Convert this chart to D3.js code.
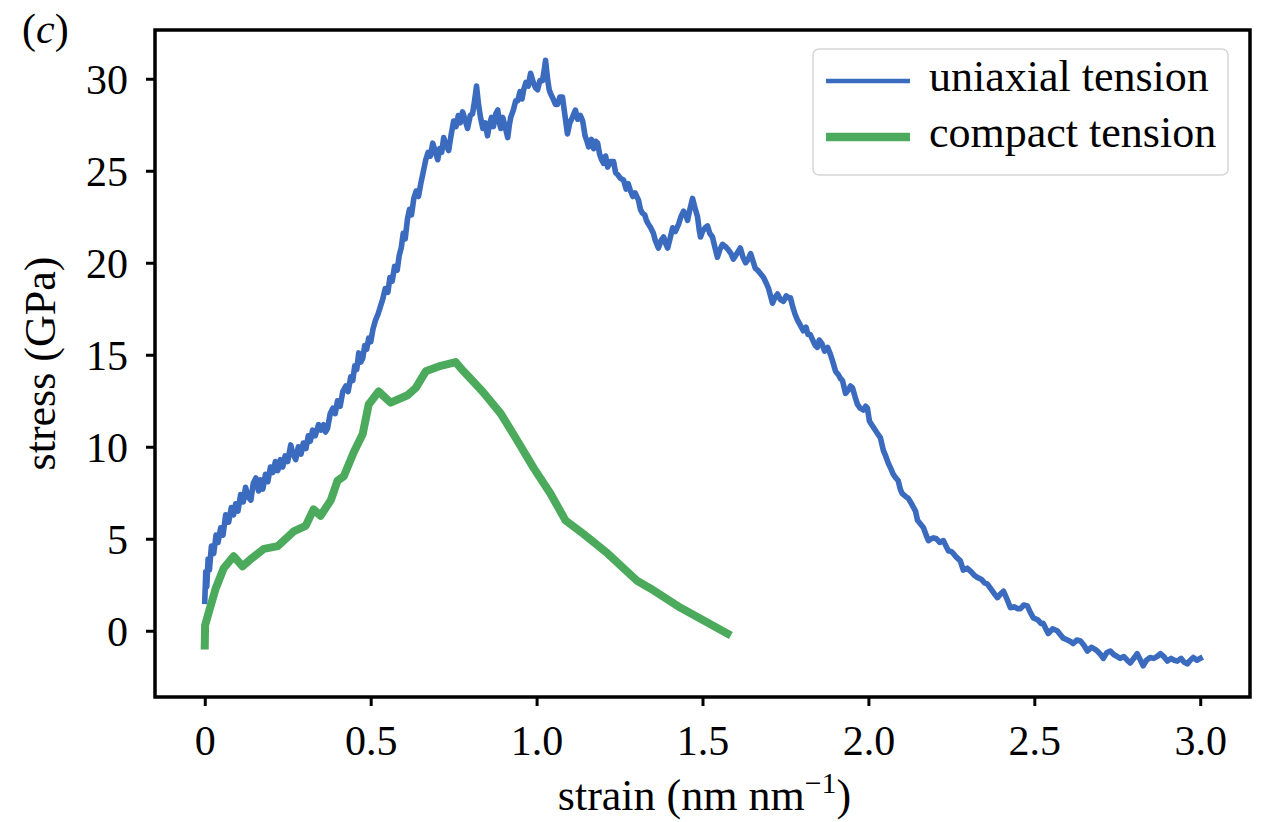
<!DOCTYPE html>
<html>
<head>
<meta charset="utf-8">
<title>Stress-strain curves (c)</title>
<style>
  body { margin: 0; background: #fff; overflow: hidden; }
  svg { display: block; }
  text { font-family: "Liberation Serif", "Times New Roman", serif; fill: #000; }
</style>
</head>
<body>
<svg id="chart" width="1263" height="822"></svg>
<script src="https://cdnjs.cloudflare.com/ajax/libs/d3/7.8.5/d3.min.js"></script>
<script>
  // tick positions and labels
  const xTicks = [0, 0.5, 1.0, 1.5, 2.0, 2.5, 3.0];
  const xTickLabels = ["0", "0.5", "1.0", "1.5", "2.0", "2.5", "3.0"];
  const yTicks = [0, 5, 10, 15, 20, 25, 30];
  const seriesNames = ["uniaxial tension", "compact tension"];

  // [strain (nm/nm), stress (GPa)]
  const uniaxial = [
    [0.000,1.6],[0.003,3.2],[0.006,2.4],[0.010,3.9],[0.014,3.3],[0.020,4.6],[0.027,4.2],[0.034,5.2],
    [0.040,4.8],[0.048,5.6],[0.055,5.2],[0.063,6.3],[0.072,5.9],[0.080,6.7],[0.087,6.3],[0.093,6.9],
    [0.100,6.5],[0.108,7.4],[0.116,7.0],[0.123,7.8],[0.130,7.3],[0.139,7.1],[0.146,8.0],[0.154,8.3],
    [0.162,7.6],[0.168,8.2],[0.175,7.7],[0.183,8.5],[0.190,8.1],[0.198,8.9],[0.205,8.6],[0.213,9.2],
    [0.220,8.7],[0.228,9.3],[0.235,8.9],[0.242,9.5],[0.250,9.2],[0.259,10.1],[0.266,9.6],[0.274,9.3],
    [0.282,10.0],[0.290,9.6],[0.297,10.2],[0.305,9.9],[0.312,10.6],[0.318,10.3],[0.325,10.9],[0.333,10.6],
    [0.343,11.2],[0.350,10.9],[0.358,11.2],[0.364,10.8],[0.370,11.0],[0.378,11.8],[0.386,12.1],[0.393,11.8],
    [0.400,12.5],[0.408,12.2],[0.416,13.0],[0.425,13.3],[0.432,13.0],[0.440,13.8],[0.446,13.6],[0.452,14.4],
    [0.458,14.2],[0.464,15.1],[0.470,14.6],[0.476,14.8],[0.482,15.5],[0.488,15.3],[0.494,15.9],[0.500,15.7],
    [0.507,16.4],[0.515,16.9],[0.522,17.2],[0.529,17.6],[0.536,18.0],[0.544,18.6],[0.552,18.4],[0.558,19.2],
    [0.565,19.0],[0.572,19.8],[0.580,19.6],[0.586,20.4],[0.592,20.8],[0.598,21.6],[0.604,21.3],[0.611,22.4],
    [0.617,22.9],[0.623,22.6],[0.630,23.5],[0.637,23.9],[0.644,23.6],[0.651,24.3],[0.658,24.9],[0.666,25.6],
    [0.673,26.0],[0.680,25.8],[0.687,26.5],[0.694,26.1],[0.702,25.6],[0.708,26.2],[0.714,26.0],[0.720,26.8],
    [0.727,26.4],[0.735,26.1],[0.742,26.9],[0.750,27.7],[0.757,27.4],[0.764,28.0],[0.770,27.6],[0.777,28.2],
    [0.784,27.8],[0.792,27.3],[0.800,28.0],[0.807,28.1],[0.813,28.8],[0.819,29.6],[0.825,28.6],[0.831,27.9],
    [0.838,27.3],[0.845,27.6],[0.852,26.9],[0.858,27.5],[0.864,27.9],[0.870,27.4],[0.877,28.1],[0.883,28.3],
    [0.888,27.6],[0.892,27.3],[0.898,27.9],[0.905,27.4],[0.913,26.8],[0.918,27.5],[0.922,27.9],[0.930,28.3],
    [0.937,28.8],[0.943,28.8],[0.950,29.3],[0.956,28.9],[0.961,29.4],[0.968,29.8],[0.975,29.6],[0.982,30.3],
    [0.990,29.8],[0.997,29.5],[1.003,29.4],[1.010,29.9],[1.018,29.9],[1.024,30.6],[1.027,31.0],[1.033,30.0],
    [1.038,29.4],[1.042,29.2],[1.050,28.9],[1.057,28.6],[1.063,28.6],[1.070,29.0],[1.078,29.0],[1.084,28.2],
    [1.093,27.0],[1.100,27.6],[1.108,27.9],[1.117,28.3],[1.124,27.8],[1.132,28.0],[1.139,27.7],[1.146,26.9],
    [1.152,26.6],[1.157,26.3],[1.165,26.7],[1.172,26.2],[1.178,26.6],[1.184,26.5],[1.190,25.9],[1.196,25.6],
    [1.202,25.4],[1.208,25.8],[1.214,25.2],[1.223,25.5],[1.232,25.5],[1.238,24.9],[1.244,24.8],[1.252,24.6],
    [1.262,24.5],[1.270,24.0],[1.276,24.3],[1.283,23.9],[1.290,23.6],[1.297,23.8],[1.307,23.4],[1.313,22.9],
    [1.319,22.7],[1.326,22.6],[1.331,22.3],[1.337,22.1],[1.344,21.9],[1.352,21.6],[1.358,21.2],[1.367,20.8],
    [1.375,21.2],[1.383,21.4],[1.390,21.0],[1.395,20.8],[1.402,21.3],[1.410,21.9],[1.418,21.7],[1.428,22.1],
    [1.435,22.5],[1.443,22.8],[1.450,22.6],[1.455,22.3],[1.462,22.9],[1.470,23.5],[1.477,23.0],[1.485,22.5],
    [1.490,21.8],[1.494,21.4],[1.500,21.7],[1.508,21.9],[1.515,22.0],[1.522,21.6],[1.530,21.4],[1.538,20.8],
    [1.545,20.3],[1.552,20.7],[1.560,21.0],[1.568,20.9],[1.578,20.7],[1.586,20.5],[1.593,20.2],[1.600,20.4],
    [1.607,20.6],[1.614,20.8],[1.622,20.3],[1.630,20.0],[1.638,20.2],[1.645,20.5],[1.652,20.1],[1.659,19.7],
    [1.666,19.6],[1.675,19.4],[1.684,19.2],[1.692,18.9],[1.699,18.6],[1.705,18.2],[1.711,17.8],[1.718,18.1],
    [1.726,18.3],[1.735,18.0],[1.744,17.9],[1.752,18.2],[1.760,18.1],[1.765,18.1],[1.772,17.6],[1.779,17.2],
    [1.786,16.9],[1.795,16.6],[1.804,16.3],[1.812,16.5],[1.818,16.1],[1.825,16.1],[1.832,15.8],[1.840,15.5],
    [1.846,15.4],[1.852,15.8],[1.860,15.6],[1.868,15.2],[1.877,15.4],[1.886,15.0],[1.893,14.6],[1.901,14.1],
    [1.910,13.9],[1.916,13.7],[1.922,13.6],[1.931,12.9],[1.940,13.1],[1.946,13.3],[1.952,13.2],[1.960,12.7],
    [1.967,12.3],[1.975,12.1],[1.985,12.0],[1.992,12.2],[1.997,12.1],[2.003,11.4],[2.010,11.2],[2.021,10.9],
    [2.028,10.7],[2.036,10.5],[2.045,9.8],[2.052,9.5],[2.060,9.1],[2.068,8.8],[2.075,8.5],[2.083,8.3],
    [2.090,8.15],[2.096,7.7],[2.102,7.45],[2.112,7.3],[2.120,7.2],[2.130,6.9],[2.142,6.5],[2.148,6.0],
    [2.157,5.8],[2.166,5.6],[2.174,5.2],[2.181,4.9],[2.189,5.0],[2.196,5.05],[2.205,5.0],[2.215,4.8],
    [2.226,4.9],[2.234,4.6],[2.241,4.35],[2.250,4.3],[2.256,4.2],[2.265,4.0],[2.277,3.8],[2.286,3.3],
    [2.298,3.4],[2.310,3.2],[2.320,3.0],[2.328,2.9],[2.340,2.8],[2.350,2.6],[2.358,2.55],[2.368,2.3],
    [2.380,2.0],[2.389,1.8],[2.398,2.0],[2.407,2.15],[2.418,1.7],[2.428,1.25],[2.440,1.3],[2.450,1.2],
    [2.458,1.2],[2.468,1.4],[2.479,1.35],[2.488,1.0],[2.497,0.7],[2.510,0.6],[2.520,0.4],[2.527,0.4],
    [2.535,0.1],[2.542,-0.15],[2.555,0.1],[2.569,0.0],[2.578,-0.2],[2.587,-0.4],[2.600,-0.5],[2.610,-0.6],
    [2.617,-0.7],[2.628,-0.5],[2.639,-0.55],[2.650,-0.8],[2.660,-1.1],[2.672,-0.9],[2.682,-1.0],[2.690,-1.1],
    [2.700,-1.3],[2.708,-1.5],[2.718,-1.2],[2.729,-1.1],[2.740,-1.3],[2.750,-1.4],[2.759,-1.5],[2.770,-1.4],
    [2.780,-1.6],[2.789,-1.75],[2.800,-1.5],[2.810,-1.25],[2.820,-1.6],[2.828,-1.9],[2.838,-1.6],[2.849,-1.45],
    [2.860,-1.5],[2.870,-1.4],[2.880,-1.25],[2.890,-1.4],[2.901,-1.65],[2.912,-1.5],[2.922,-1.6],[2.931,-1.65],
    [2.942,-1.5],[2.951,-1.7],[2.961,-1.8],[2.970,-1.6],[2.979,-1.45],[2.990,-1.6],[3.000,-1.5]
  ];

  const compact = [
    [0.000,-0.8],[0.001,0.3],[0.012,1.0],[0.033,2.3],[0.057,3.4],[0.087,4.05],[0.114,3.5],[0.139,3.9],
    [0.178,4.45],[0.220,4.6],[0.268,5.4],[0.304,5.7],[0.328,6.6],[0.349,6.25],[0.380,7.1],[0.400,8.15],
    [0.419,8.4],[0.449,9.7],[0.476,10.7],[0.494,12.3],[0.524,13.0],[0.560,12.4],[0.611,12.8],[0.636,13.2],
    [0.666,14.1],[0.711,14.4],[0.756,14.6],[0.780,14.1],[0.837,13.0],[0.892,11.8],[0.943,10.3],[0.991,8.85],
    [1.042,7.45],[1.087,6.0],[1.142,5.25],[1.214,4.2],[1.304,2.7],[1.343,2.3],[1.434,1.25],[1.575,-0.15]
  ];

  const colors = ["#3b6bbf", "#4caa5c"];
  const widths = [5.6, 8];        // curve widths
  const legendWidths = [4.5, 8.5]; // legend handle widths

  const svg = d3.select("#chart");
  const plotLeft = 155, plotRight = 1250, plotTop = 30, plotBottom = 697;

  const x = d3.scaleLinear().domain([-0.15, 3.15]).range([plotLeft, plotRight]);
  const y = d3.scaleLinear().domain([-3.6, 32.65]).range([plotBottom, plotTop]);

  svg.append("rect").attr("width", 1263).attr("height", 822).attr("fill", "#fff");

  // x axis
  const gx = svg.append("g")
    .attr("transform", `translate(0,${plotBottom})`)
    .call(d3.axisBottom(x).tickValues(xTicks)
      .tickFormat((d, i) => xTickLabels[i]).tickSize(9));
  gx.select(".domain").remove();
  gx.selectAll(".tick line").attr("stroke", "#000").attr("stroke-width", 3);
  gx.selectAll(".tick text")
    .attr("y", 58).attr("dy", null)
    .style("font-size", "42px")
    .style("font-family", "'Liberation Serif', serif");

  // y axis
  const gy = svg.append("g")
    .attr("transform", `translate(${plotLeft},0)`)
    .call(d3.axisLeft(y).tickValues(yTicks).tickSize(9).tickPadding(18));
  gy.select(".domain").remove();
  gy.selectAll(".tick line").attr("stroke", "#000").attr("stroke-width", 3);
  gy.selectAll(".tick text")
    .attr("dy", "0.34em")
    .style("font-size", "42px")
    .style("font-family", "'Liberation Serif', serif");

  // curves
  svg.append("clipPath").attr("id", "plot-clip")
    .append("rect").attr("x", plotLeft).attr("y", plotTop)
    .attr("width", plotRight - plotLeft).attr("height", plotBottom - plotTop);

  const line = d3.line().x(d => x(d[0])).y(d => y(d[1]));
  [uniaxial, compact].forEach((series, i) => {
    svg.append("path")
      .datum(series)
      .attr("clip-path", "url(#plot-clip)")
      .attr("fill", "none")
      .attr("stroke", colors[i])
      .attr("stroke-width", widths[i])
      .attr("stroke-linejoin", "round")
      .attr("stroke-linecap", "square")
      .attr("d", line);
  });

  // frame
  svg.append("rect")
    .attr("x", plotLeft).attr("y", plotTop)
    .attr("width", plotRight - plotLeft).attr("height", plotBottom - plotTop)
    .attr("fill", "none").attr("stroke", "#000").attr("stroke-width", 3.5);

  // legend
  const legend = svg.append("g");
  legend.append("rect")
    .attr("x", 813).attr("y", 49).attr("width", 415).attr("height", 126).attr("rx", 6)
    .attr("fill", "#fff").attr("fill-opacity", 0.85)
    .attr("stroke", "#d6d6d6").attr("stroke-width", 1.5);
  seriesNames.forEach((name, i) => {
    const ly = 81 + i * 56;
    legend.append("line")
      .attr("x1", 826).attr("x2", 910).attr("y1", ly).attr("y2", ly)
      .attr("stroke", colors[i]).attr("stroke-width", legendWidths[i]);
    legend.append("text")
      .attr("x", 929).attr("y", ly + 10)
      .style("font-size", "44px")
      .text(name);
  });

  // axis labels
  svg.append("text")
    .attr("transform", `translate(55,${(plotTop + plotBottom) / 2}) rotate(-90)`)
    .attr("text-anchor", "middle")
    .style("font-size", "44px")
    .text("stress (GPa)");

  const xl = svg.append("text")
    .attr("x", (plotLeft + plotRight) / 2 + 2).attr("y", 810)
    .attr("text-anchor", "middle")
    .style("font-size", "44px");
  xl.append("tspan").text("strain (nm nm");
  xl.append("tspan").attr("dy", -17).style("font-size", "30px").text("\u22121");
  xl.append("tspan").attr("dy", 17).text(")");

  // panel letter
  const pl = svg.append("text").attr("x", 22).attr("y", 43).style("font-size", "42px");
  pl.append("tspan").text("(");
  pl.append("tspan").style("font-style", "italic").text("c");
  pl.append("tspan").text(")");
</script>
</body>
</html>
